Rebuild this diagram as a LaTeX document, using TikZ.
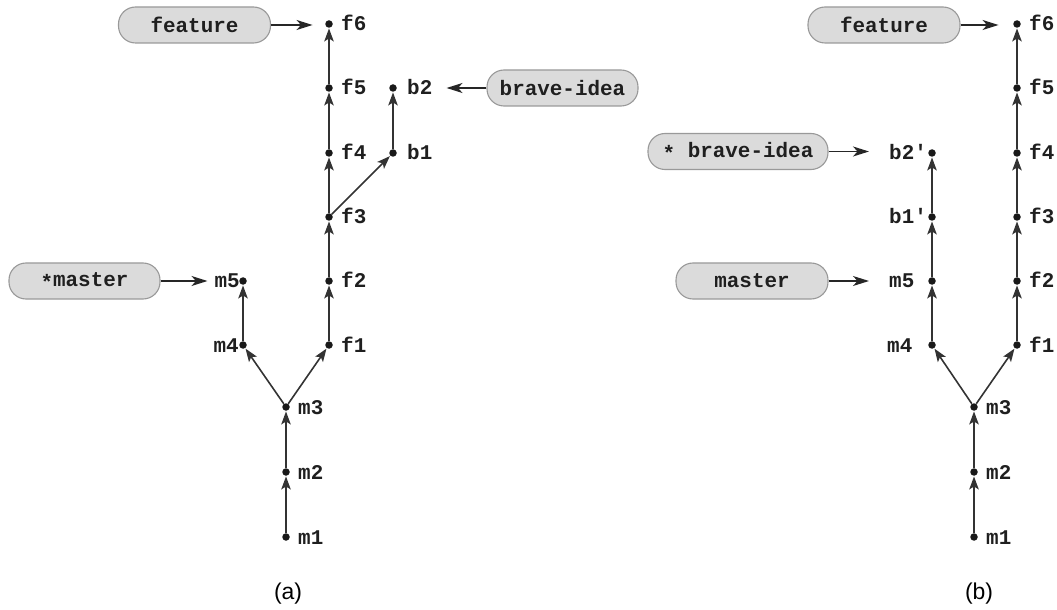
\documentclass[tikz,border=0pt]{standalone}
\usepackage{fontspec}
\setmainfont{Liberation Sans}
\newfontfamily\codefont{Liberation Mono}
\usetikzlibrary{arrows.meta,calc}
\tikzset{
  commit/.style={circle, fill=black!90, inner sep=0pt, minimum size=7.5bp},
  lbl/.style={inner sep=0pt, font=\codefont\bfseries\fontsize{21}{24}\selectfont, text=black!88},
  parentedge/.style={draw=black!80, line width=1.6bp, -{Stealth[length=13bp,width=9.5bp,inset=3bp]}, shorten >=0.5bp},
  ptr/.style={draw=black!85, line width=1.5bp, -{Stealth[length=16bp,width=10bp,inset=4.5bp]}},
  branch/.style={rounded corners=17bp, draw=black!40, fill=black!14, line width=1.1bp,
    minimum width=152bp, minimum height=36bp, inner sep=0pt,
    font=\codefont\bfseries\fontsize{21}{24}\selectfont, text=black!88},
  caption/.style={font=\fontsize{23}{26}\selectfont, inner sep=0pt}
}
\begin{document}
\begin{tikzpicture}[x=1bp,y=-1bp]
\useasboundingbox (0,0) rectangle (1057,610);
% ---------------- panel (a) ----------------
\node[commit] (am1) at (286,537) {};
\node[commit] (am2) at (286,472) {};
\node[commit] (am3) at (286,407) {};
\node[commit] (am4) at (243,345) {};
\node[commit] (am5) at (243,281) {};
\node[commit] (af1) at (329,345) {};
\node[commit] (af2) at (329,281) {};
\node[commit] (af3) at (329,217) {};
\node[commit] (af4) at (329,153) {};
\node[commit] (af5) at (329,88) {};
\node[commit] (af6) at (329,24) {};
\node[commit] (ab1) at (393,153) {};
\node[commit] (ab2) at (393,88) {};

\node[lbl,anchor=base west] (am1l) at ($(am1)+(12,7)$) {m1};
\node[lbl,anchor=base west] (am2l) at ($(am2)+(12,7)$) {m2};
\node[lbl,anchor=base west] (am3l) at ($(am3)+(12,7)$) {m3};
\node[lbl,anchor=base east] (am4l) at ($(am4)+(-4,7)$) {m4};
\node[lbl,anchor=base east] (am5l) at ($(am5)+(-3,7)$) {m5};
\node[lbl,anchor=base west] (af1l) at ($(af1)+(12,7)$) {f1};
\node[lbl,anchor=base west] (af2l) at ($(af2)+(12,7)$) {f2};
\node[lbl,anchor=base west] (af3l) at ($(af3)+(12,7)$) {f3};
\node[lbl,anchor=base west] (af4l) at ($(af4)+(12,7)$) {f4};
\node[lbl,anchor=base west] (af5l) at ($(af5)+(12,7)$) {f5};
\node[lbl,anchor=base west] (af6l) at ($(af6)+(12,7)$) {f6};
\node[lbl,anchor=base west] (ab1l) at ($(ab1)+(14,7)$) {b1};
\node[lbl,anchor=base west] (ab2l) at ($(ab2)+(14,7)$) {b2};

\draw[parentedge] (am1) -- (am2);
\draw[parentedge] (am2) -- (am3);
\draw[parentedge] (am3) -- (am4);
\draw[parentedge] (am3) -- (af1);
\draw[parentedge] (am4) -- (am5);
\draw[parentedge] (af1) -- (af2);
\draw[parentedge] (af2) -- (af3);
\draw[parentedge] (af3) -- (af4);
\draw[parentedge] (af4) -- (af5);
\draw[parentedge] (af5) -- (af6);
\draw[parentedge] (af3) -- (ab1);
\draw[parentedge] (ab1) -- (ab2);

\node[branch] (afeat) at (194.5,25) {feature};
\node[branch, minimum width=151bp] (abrave) at (562.5,88) {brave-idea};
\node[branch, minimum width=151bp] (amaster) at (84.5,281) {\raisebox{-3bp}{*}master};

\draw[ptr, shorten >=12.5bp] (afeat.east) -- (afeat.east -| af6.west);
\draw[ptr, shorten >=14bp] (abrave.west) -- (abrave.west -| ab2l.east);
\draw[ptr, shorten >=7bp] (amaster.east) -- (amaster.east -| am5l.west);

\node[caption] (capa) at (288,594) {(a)};

% ---------------- panel (b) ----------------
\node[commit] (bm1) at (974,537) {};
\node[commit] (bm2) at (974,472) {};
\node[commit] (bm3) at (974,407) {};
\node[commit] (bm4) at (932,345) {};
\node[commit] (bm5) at (932,281) {};
\node[commit] (bb1) at (932,217) {};
\node[commit] (bb2) at (932,153) {};
\node[commit] (bf1) at (1017,345) {};
\node[commit] (bf2) at (1017,281) {};
\node[commit] (bf3) at (1017,217) {};
\node[commit] (bf4) at (1017,153) {};
\node[commit] (bf5) at (1017,88) {};
\node[commit] (bf6) at (1017,24) {};

\node[lbl,anchor=base west] (bm1l) at ($(bm1)+(12,7)$) {m1};
\node[lbl,anchor=base west] (bm2l) at ($(bm2)+(12,7)$) {m2};
\node[lbl,anchor=base west] (bm3l) at ($(bm3)+(12,7)$) {m3};
\node[lbl,anchor=base west] (bm4l) at ($(bm4)+(-45,7)$) {m4};
\node[lbl,anchor=base west] (bm5l) at ($(bm5)+(-43,7)$) {m5};
\node[lbl,anchor=base west] (bb1l) at ($(bb1)+(-43,7)$) {b1'};
\node[lbl,anchor=base west] (bb2l) at ($(bb2)+(-43,7)$) {b2'};
\node[lbl,anchor=base west] (bf1l) at ($(bf1)+(12,7)$) {f1};
\node[lbl,anchor=base west] (bf2l) at ($(bf2)+(12,7)$) {f2};
\node[lbl,anchor=base west] (bf3l) at ($(bf3)+(12,7)$) {f3};
\node[lbl,anchor=base west] (bf4l) at ($(bf4)+(12,7)$) {f4};
\node[lbl,anchor=base west] (bf5l) at ($(bf5)+(12,7)$) {f5};
\node[lbl,anchor=base west] (bf6l) at ($(bf6)+(12,7)$) {f6};

\draw[parentedge] (bm1) -- (bm2);
\draw[parentedge] (bm2) -- (bm3);
\draw[parentedge] (bm3) -- (bm4);
\draw[parentedge] (bm3) -- (bf1);
\draw[parentedge] (bm4) -- (bm5);
\draw[parentedge] (bm5) -- (bb1);
\draw[parentedge] (bb1) -- (bb2);
\draw[parentedge] (bf1) -- (bf2);
\draw[parentedge] (bf2) -- (bf3);
\draw[parentedge] (bf3) -- (bf4);
\draw[parentedge] (bf4) -- (bf5);
\draw[parentedge] (bf5) -- (bf6);

\node[branch] (bfeat) at (884,25) {feature};
\node[branch, minimum width=180bp] (bbrave) at (738,151.5) {\raisebox{-3bp}{*} brave-idea};
\node[branch] (bmaster) at (752,281) {master};

\draw[ptr, shorten >=14.5bp] (bfeat.east) -- (bfeat.east -| bf6.west);
\draw[ptr, shorten >=20bp] (bbrave.east) -- (bbrave.east -| bb2l.west);
\draw[ptr, shorten >=20bp] (bmaster.east) -- (bmaster.east -| bm5l.west);

\node[caption] (capb) at (979,594) {(b)};
\end{tikzpicture}
\end{document}
